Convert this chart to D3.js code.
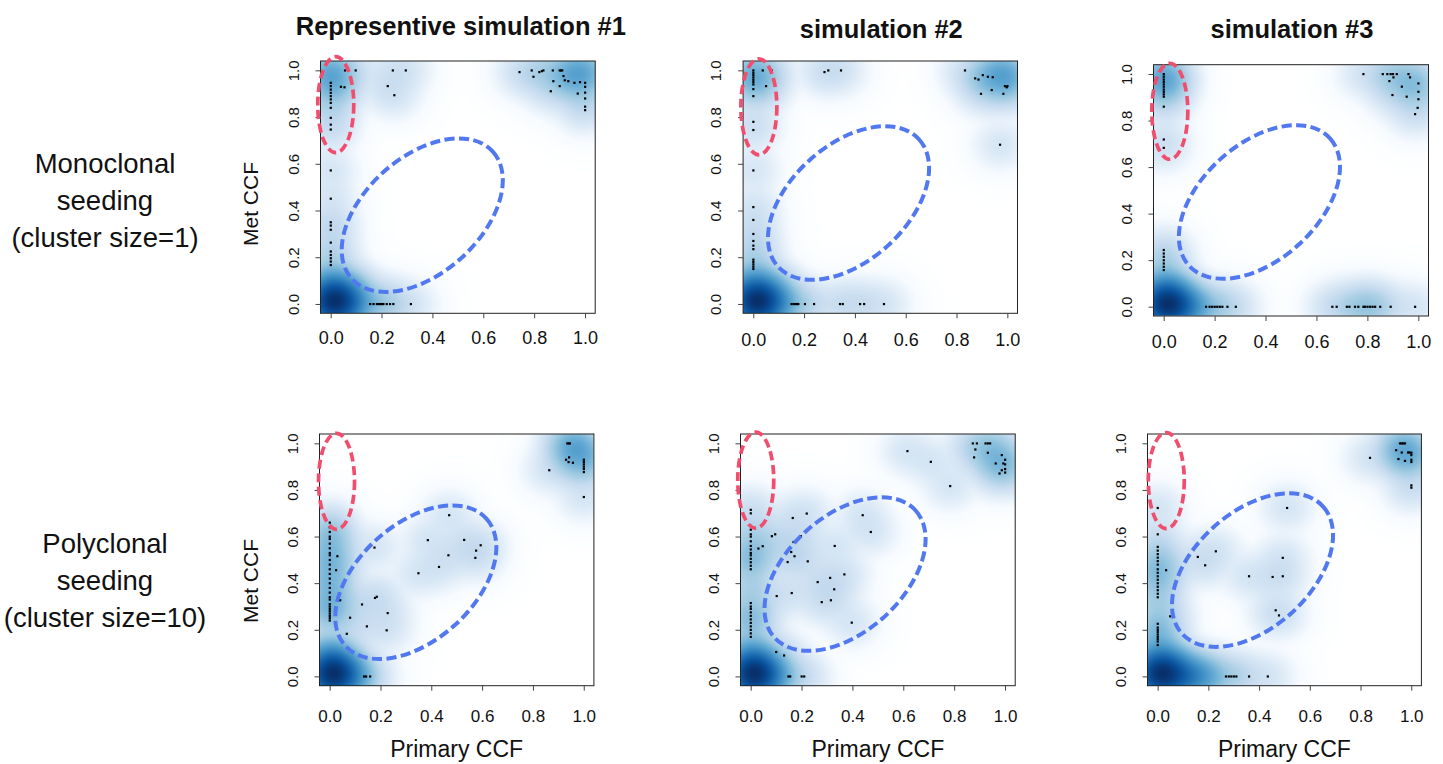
<!DOCTYPE html>
<html>
<head>
<meta charset="utf-8">
<script src="https://cdn.jsdelivr.net/npm/d3@7"></script>
<style>
  body { margin: 0; background: #fff; }
  svg { display: block; }
  text { font-family: "Liberation Sans", Arial, Helvetica, sans-serif; fill: #111; }
</style>
</head>
<body>
<svg id="chart" width="1443" height="764"></svg>
<script>
// ---------------------------------------------------------------
// Mutation CCF pairs (primary, metastasis) for each simulation.
// "Points" are the sparse mutations plotted individually;
// "Dense" are [primary, met, count] groups of mutations that sit in
// crowded areas and only show up through the smoothed density.
// ---------------------------------------------------------------
const columnTitles = ["Representive simulation #1", "simulation #2", "simulation #3"];
const rowLabels = [
  ["Monoclonal", "seeding", "(cluster size=1)"],
  ["Polyclonal", "seeding", "(cluster size=10)"]
];
const tickValues = [0, 0.2, 0.4, 0.6, 0.8, 1.0];
const xLabel = "Primary CCF";
const yLabel = "Met CCF";

const monoSim1Points = [
  [0,0.947],[0,0.933],[0,0.918],[0,0.904],[0,0.89],[0,0.876],[0,0.861],[0,0.84],[0,0.797],[0,0.768],[0,0.747],
  [0,0.572],[0,0.451],[0,0.35],[0,0.336],[0,0.318],[0,0.263],[0,0.225],[0,0.21],[0,0.196],[0,0.182],[0,0.167],
  [0.04,0.93],[0.054,0.928],[0.056,1.0],[0.098,1.0],[0.224,0.933],[0.244,1.0],[0.25,0.894],[0.295,1.0],
  [0.742,0.993],[0.79,1.0],[0.797,0.973],[0.82,0.993],[0.83,0.997],[0.836,1.0],[0.873,1.0],[0.875,0.954],
  [0.9,0.933],[0.9,1.0],[0.905,1.0],[0.91,1.0],[0.915,0.976],[0.92,0.958],[0.934,0.954],[0.958,0.947],
  [0.98,0.95],[0.971,0.901],[0.865,0.911],[1,0.947],[1,0.93],[1,0.905],[1,0.88],[1,0.845],[1,0.83],
  [0.155,0],[0.168,0],[0.181,0],[0.188,0],[0.194,0],[0.201,0],[0.207,0],[0.22,0],[0.233,0],[0.246,0],[0.315,0]
];
const monoSim1Dense = [
  [0,0,120],[0.04,0,60],[0,0.04,45],[0.04,0.04,30],[0.09,0,25],[0,0.09,18],[0.08,0.06,8],
  [0,0.99,20],[0,0.95,8],
  [1,1,12],[0.97,0.98,12],[0.95,1.0,6]
];

const monoSim2Points = [
  [0,1.0],[0,0.99],[0,0.98],[0,0.97],[0,0.96],[0,0.95],[0,0.94],[0,0.92],[0,0.89],[0,0.78],[0,0.745],
  [0,0.572],[0,0.415],[0,0.36],[0,0.3],[0,0.27],[0,0.25],[0,0.235],[0,0.19],[0,0.18],[0,0.17],[0,0.16],[0,0.15],
  [0.037,1],[0.072,1],[0.05,0.933],[0.28,0.993],[0.295,1],[0.345,1],
  [0.833,1],[0.873,0.966],[0.886,0.961],[0.903,0.98],[0.923,0.973],[0.942,0.971],[0.896,0.9],[0.938,0.916],
  [0.984,0.9],[0.99,0.933],[0.997,0.928],[1,0.933],[0.971,0.682],
  [0.15,0],[0.158,0],[0.165,0],[0.172,0],[0.177,0],[0.203,0],[0.239,0],[0.341,0],[0.352,0],[0.42,0],[0.436,0],[0.514,0]
];
const monoSim2Dense = [
  [0,0,120],[0.04,0,60],[0,0.04,45],[0.04,0.04,30],[0.09,0,25],[0,0.09,18],[0.08,0.06,8],
  [0,0.98,12],[0.02,0.95,4],
  [1,0.97,18],[0.97,1,10],[0.93,0.97,7]
];

const monoSim3Points = [
  [0,1.0],[0,0.989],[0,0.977],[0,0.967],[0,0.956],[0,0.946],[0,0.934],[0,0.924],[0,0.913],[0,0.903],[0,0.86],
  [0,0.719],[0,0.683],[0,0.244],[0,0.229],[0,0.215],[0,0.2],[0,0.186],[0,0.172],[0,0.158],
  [0.784,1],[0.86,1],[0.878,1],[0.891,1],[0.9,1],[0.915,1],[0.961,1],[0.886,0.97],[0.902,0.986],[0.935,0.946],
  [0.967,0.986],[0.898,0.91],[0.954,0.903],[1,0.96],[1,0.924],[1,0.892],[0.997,0.855],[0.987,0.828],
  [0.166,0],[0.18,0],[0.19,0],[0.2,0],[0.21,0],[0.22,0],[0.23,0],[0.25,0],[0.283,0],
  [0.662,0],[0.679,0],[0.719,0],[0.729,0],[0.751,0],[0.764,0],[0.784,0],[0.79,0],[0.8,0],[0.81,0],
  [0.82,0],[0.83,0],[0.85,0],[0.891,0],[0.987,0]
];
const monoSim3Dense = [
  [0,0,120],[0.04,0,60],[0,0.04,45],[0.04,0.04,30],[0.09,0,32],[0,0.09,18],[0.13,0,8],
  [0,0.97,16],[0,1,8],
  [0.97,0.97,6],[1,0.95,4],
  [0.8,0,3]
];

const polySim1Points = [
  [0,0.66],[0,0.64],[0,0.62],[0,0.6],[0,0.59],[0,0.57],[0,0.55],[0,0.53],[0,0.52],[0,0.5],[0,0.48],[0,0.46],
  [0,0.44],[0,0.42],[0,0.4],[0,0.38],[0,0.36],[0,0.34],[0,0.33],[0,0.31],[0,0.3],[0,0.29],[0,0.28],[0,0.27],
  [0,0.26],[0,0.25],[0,0.24],
  [0.03,0.516],[0.025,0.456],[0.041,0.327],[0.08,0.252],[0.067,0.183],[0.127,0.309],[0.146,0.215],
  [0.176,0.553],[0.178,0.337],[0.185,0.342],[0.228,0.272],[0.224,0.198],[0.349,0.443],[0.386,0.585],
  [0.43,0.47],[0.467,0.52],[0.47,0.692],[0.529,0.586],[0.573,0.509],[0.576,0.54],[0.594,0.563],
  [0.135,0],[0.143,0],[0.159,0],
  [0.864,0.885],[0.935,1],[0.94,1],[0.945,1],[0.93,0.93],[0.94,0.92],[0.942,0.94],[0.957,0.917],
  [1,0.93],[1,0.92],[1,0.91],[1,0.9],[1,0.89],[1,0.877],[1,0.77]
];
const polySim1Dense = [
  [0,0,120],[0.04,0,60],[0,0.04,45],[0.04,0.04,30],[0.09,0,20],[0,0.09,22],
  [0,0.3,9],[0,0.4,9],[0,0.5,9],[0,0.6,7],
  [0.97,0.98,14],[1,0.95,10],[0.95,1,7]
];

const polySim2Points = [
  [0,0.715],[0,0.70],[0,0.63],[0,0.61],[0,0.60],[0,0.58],[0,0.56],[0,0.545],[0,0.53],[0,0.52],[0,0.505],
  [0,0.49],[0,0.475],[0,0.46],[0,0.315],[0,0.3],[0,0.29],[0,0.275],[0,0.26],[0,0.245],[0,0.23],[0,0.215],
  [0,0.2],[0,0.185],[0,0.17],
  [0.03,0.549],[0.047,0.559],[0.083,0.602],[0.096,0.61],[0.102,0.345],[0.1,0.105],[0.131,0.09],[0.145,0.491],
  [0.161,0.358],[0.159,0.534],[0.165,0.68],[0.168,0.577],[0.172,0.516],[0.197,0.602],[0.22,0.699],[0.224,0.494],
  [0.263,0.405],[0.279,0.319],[0.312,0.423],[0.315,0.327],[0.328,0.374],[0.33,0.56],[0.368,0.438],[0.397,0.231],
  [0.44,0.692],[0.472,0.62],[0.616,0.967],[0.708,0.921],[0.784,0.817],
  [0.148,0],[0.155,0],[0.2,0],[0.21,0],
  [0.873,1],[0.889,1],[0.923,1],[0.932,1],[0.941,1],[0.883,0.974],[0.878,0.94],[0.932,0.96],[0.987,0.95],
  [0.963,0.914],[0.987,0.885],[0.978,0.871],[1,0.93],[1,0.91],[1,0.89],[1,0.875],[0.993,0.914]
];
const polySim2Dense = [
  [0,0,120],[0.04,0,60],[0,0.04,45],[0.04,0.04,30],[0.09,0,20],[0,0.09,22],
  [0,0.25,6],[0,0.38,5],[0,0.5,6],
  [0.98,0.92,9],[0.95,0.98,5]
];

const polySim3Points = [
  [0,0.723],[0,0.61],[0,0.556],[0,0.54],[0,0.525],[0,0.51],[0,0.495],[0,0.48],[0,0.46],[0,0.445],[0,0.43],
  [0,0.415],[0,0.4],[0,0.385],[0,0.37],[0,0.355],[0,0.34],[0,0.226],[0,0.21],[0,0.2],[0,0.19],[0,0.18],
  [0,0.17],[0,0.16],[0,0.15],[0,0.135],
  [0.033,0.456],[0.049,0.258],[0.158,0.513],[0.187,0.477],[0.229,0.537],[0.36,0.43],[0.453,0.427],
  [0.493,0.43],[0.493,0.509],[0.465,0.284],[0.478,0.262],[0.51,0.723],
  [0.269,0],[0.28,0],[0.29,0],[0.3,0],[0.31,0],[0.36,0],[0.434,0],
  [0.837,0.938],[0.94,0.971],[0.949,0.933],[0.955,1],[0.962,1],[0.968,1],[0.975,1],[0.962,0.961],
  [0.975,0.925],[0.987,0.961],[0.993,0.961],[1,0.96],[1,0.95],[1,0.93],[1,0.92],[1,0.82],[1,0.81]
];
const polySim3Dense = [
  [0,0,120],[0.05,0,60],[0,0.04,40],[0.1,0,40],[0.15,0,24],[0.2,0,12],[0.05,0.05,30],[0,0.09,16],
  [0,0.2,6],[0,0.3,4],[0,0.45,6],
  [0.97,0.97,11],[1,0.95,5]
];

// ---------------------------------------------------------------
// Panel layout (pixel frame of each plotting region) and the
// hand-drawn ellipses (centres in data units).
// ---------------------------------------------------------------
const panels = [
  {pts: monoSim1Points, dense: monoSim1Dense, box: [320.5, 595.2, 61, 313.3], xLabY: 338, red: [0.02, 0.853], blue: [0.36, 0.38]},
  {pts: monoSim2Points, dense: monoSim2Dense, box: [743.1, 1017.5, 61, 313.3], xLabY: 340, red: [0.022, 0.844], blue: [0.375, 0.432]},
  {pts: monoSim3Points, dense: monoSim3Dense, box: [1153.5, 1428.5, 64.7, 316], xLabY: 342, red: [0.024, 0.84], blue: [0.376, 0.45]},
  {pts: polySim1Points, dense: polySim1Dense, box: [319.5, 593.9, 434, 685.7], xLabY: 716, red: [0.027, 0.837], blue: [0.339, 0.404]},
  {pts: polySim2Points, dense: polySim2Dense, box: [740.5, 1015.2, 434, 685.7], xLabY: 716, red: [0.02, 0.842], blue: [0.371, 0.439]},
  {pts: polySim3Points, dense: polySim3Dense, box: [1147.5, 1421.4, 434, 685.7], xLabY: 716, red: [0.034, 0.84], blue: [0.374, 0.456]}
];

const DOMAIN = [-0.04, 1.04];
const BANDWIDTH = 0.05;
const blues = ["#FFFFFF","#F7FBFF","#DEEBF7","#C6DBEF","#9ECAE1","#6BAED6","#4292C6","#2171B5","#08519C","#08306B"];
const ramp = d3.scaleLinear().domain(blues.map((_, i) => i / (blues.length - 1))).range(blues).interpolate(d3.interpolateRgb);
const lut = d3.range(256).map(i => d3.rgb(ramp(i / 255)));

const svg = d3.select("#chart");

// smoothed density of one panel, coloured with the fourth-root transform
function densityImage(x, y, pts, dense) {
  const [x0, x1] = x.range();
  const [yb, yt] = y.range();
  const w = Math.round(x1 - x0), h = Math.round(yb - yt);
  const src = pts.map(p => [p[0], p[1], 1]).concat(dense);
  const grid = new Float64Array(w * h);
  let max = 0;
  for (let j = 0; j < h; j++) {
    const yv = y.invert(yt + j + 0.5);
    for (let i = 0; i < w; i++) {
      const xv = x.invert(x0 + i + 0.5);
      let s = 0;
      for (let k = 0; k < src.length; k++) {
        const dx = (xv - src[k][0]) / BANDWIDTH, dy = (yv - src[k][1]) / BANDWIDTH;
        const q = dx * dx + dy * dy;
        if (q < 50) s += src[k][2] * Math.exp(-0.5 * q);
      }
      grid[j * w + i] = s;
      if (s > max) max = s;
    }
  }
  const canvas = document.createElement("canvas");
  canvas.width = w; canvas.height = h;
  const ctx = canvas.getContext("2d");
  const img = ctx.createImageData(w, h);
  for (let k = 0; k < grid.length; k++) {
    const t = Math.pow(grid[k] / max, 0.25);
    const c = lut[Math.min(255, Math.floor(t * 256))];
    img.data[4 * k] = c.r; img.data[4 * k + 1] = c.g; img.data[4 * k + 2] = c.b; img.data[4 * k + 3] = 255;
  }
  ctx.putImageData(img, 0, 0);
  return {href: canvas.toDataURL(), x: x0, y: yt, w, h};
}

panels.forEach((p, idx) => {
  const [left, right, top, bottom] = p.box;
  const x = d3.scaleLinear().domain(DOMAIN).range([left, right]);
  const y = d3.scaleLinear().domain(DOMAIN).range([bottom, top]);
  const g = svg.append("g");

  const im = densityImage(x, y, p.pts, p.dense);
  g.append("image").attr("href", im.href).attr("x", im.x).attr("y", im.y)
    .attr("width", im.w).attr("height", im.h).attr("preserveAspectRatio", "none");

  g.append("g").selectAll("rect").data(p.pts).join("rect")
    .attr("x", d => x(d[0]) - 1).attr("y", d => y(d[1]) - 1)
    .attr("width", 2.2).attr("height", 2.2).attr("fill", "#000");

  g.append("rect").attr("x", left).attr("y", top).attr("width", right - left).attr("height", bottom - top)
    .attr("fill", "none").attr("stroke", "#222").attr("stroke-width", 1);

  const fmt = d3.format(".1f");
  const xa = g.append("g").attr("transform", `translate(0,${bottom})`)
    .call(d3.axisBottom(x).tickValues(tickValues).tickFormat(fmt).tickSize(5));
  xa.select(".domain").remove();
  xa.selectAll("line").attr("stroke", "#444");
  xa.selectAll("text").attr("y", p.xLabY - bottom).attr("dy", "0.35em")
    .style("font-size", idx < 3 ? "18px" : "17px").attr("fill", "#111");

  const ya = g.append("g").attr("transform", `translate(${left},0)`)
    .call(d3.axisLeft(y).tickValues(tickValues).tickFormat(fmt).tickSize(5));
  ya.select(".domain").remove();
  ya.selectAll("line").attr("stroke", "#444");
  ya.selectAll("text").attr("x", null).attr("dy", "0.35em").attr("text-anchor", "middle")
    .attr("transform", "translate(-27,0) rotate(-90)").style("font-size", "15px").attr("fill", "#111");

  // dashed annotations
  g.append("ellipse").attr("cx", x(p.red[0])).attr("cy", y(p.red[1])).attr("rx", 18).attr("ry", 48)
    .attr("fill", "none").attr("stroke", "#EF4E6E").attr("stroke-width", 3.7).attr("stroke-dasharray", "9 4.5");
  g.append("ellipse").attr("cx", 0).attr("cy", 0).attr("rx", 95).attr("ry", 58)
    .attr("transform", `translate(${x(p.blue[0])},${y(p.blue[1])}) rotate(-42)`)
    .attr("fill", "none").attr("stroke", "#5278F0").attr("stroke-width", 4).attr("stroke-dasharray", "10 4.5");

  if (idx < 3) {
    svg.append("text").attr("x", (left + right) / 2 + (idx === 0 ? 3 : 1)).attr("y", idx === 0 ? 35 : 38)
      .attr("text-anchor", "middle").style("font-size", "25.5px").style("font-weight", "bold")
      .text(columnTitles[idx]);
  } else {
    svg.append("text").attr("x", (left + right) / 2).attr("y", 757)
      .attr("text-anchor", "middle").style("font-size", "23px").text(xLabel);
  }
  if (idx % 3 === 0) {
    const cy = idx === 0 ? 204 : 581;
    svg.append("text").attr("transform", `translate(258,${cy}) rotate(-90)`)
      .attr("text-anchor", "middle").style("font-size", "21px").text(yLabel);
  }
});

// row descriptions
const rowBase = [173, 553];
rowLabels.forEach((lines, r) => {
  const t = svg.append("text").attr("text-anchor", "middle").style("font-size", "27.5px");
  lines.forEach((s, i) => t.append("tspan").attr("x", 105).attr("y", rowBase[r] + i * 37).text(s));
});
</script>
</body>
</html>
